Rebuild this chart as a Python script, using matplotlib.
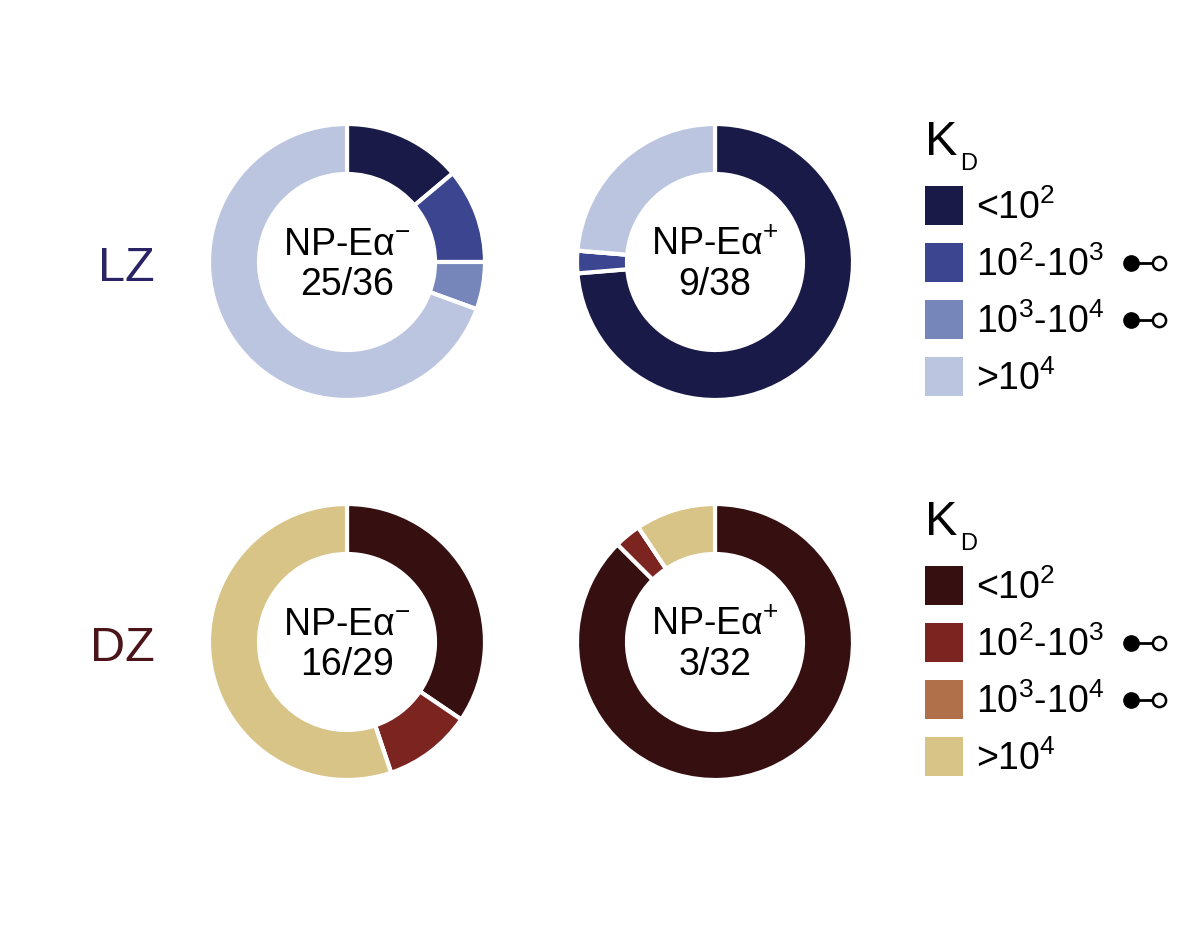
import matplotlib
matplotlib.use("Agg")
import matplotlib.pyplot as plt
from matplotlib.patches import Rectangle

plt.rcParams["font.family"] = ["Liberation Sans", "DejaVu Sans"]
plt.rcParams["mathtext.fontset"] = "custom"
plt.rcParams["mathtext.rm"] = "Liberation Sans"
plt.rcParams["mathtext.it"] = "Liberation Sans:italic"
plt.rcParams["mathtext.bf"] = "Liberation Sans:bold"

# counts per KD bin, order: <1e2, 1e2-1e3, 1e3-1e4, >1e4
kd_labels = [r"<10$^{2}$", r"10$^{2}$-10$^{3}$", r"10$^{3}$-10$^{4}$", r">10$^{4}$"]
lz_neg = [5, 4, 2, 25]
lz_pos = [28, 1, 0, 9]
dz_neg = [10, 3, 0, 16]
dz_pos = [28, 1, 0, 3]
zones = ["LZ", "DZ"]
np_labels = [r"NP-Eα$^{-}$", r"NP-Eα$^{+}$"]
lz_colors = ["#1a1a48", "#3c4590", "#7686bb", "#bcc5e0"]
dz_colors = ["#360f10", "#7b2420", "#b0704a", "#d8c486"]
zone_colors = ["#2a2466", "#4a1418"]
dumbbell = [False, True, True, False]  # marker after legend label

W, H = 1182, 932
fig = plt.figure(figsize=(W / 100, H / 100), dpi=100)
ax = fig.add_axes([0, 0, 1, 1])


def Y(yp):
    # pixel row (from top) -> data y
    return H - yp


R, RW = 138, 50
cx = [347, 715]
cy = [262, 642]
rows = [(lz_neg, lz_pos, lz_colors), (dz_neg, dz_pos, dz_colors)]

for r, (neg, pos, cols) in enumerate(rows):
    yc = cy[r]
    for c, vals in enumerate([neg, pos]):
        ax.pie(vals, colors=cols, startangle=90, counterclock=False,
               center=(cx[c], Y(yc)), radius=R, frame=True,
               wedgeprops=dict(width=RW, edgecolor="white", linewidth=3))
        ax.text(cx[c], Y(yc - 7), np_labels[c], ha="center", va="baseline",
                fontsize=27)
        ax.text(cx[c], Y(yc + 33), f"{vals[3]}/{sum(vals)}", ha="center",
                va="baseline", fontsize=27)
    ax.text(155, Y(yc + 19), zones[r], ha="right", va="baseline",
            fontsize=35, color=zone_colors[r])

    # legend
    ky = yc - 107
    ax.text(925, Y(ky), "K", ha="left", va="baseline", fontsize=35)
    ax.text(960, Y(ky + 15), "D", ha="left", va="baseline", fontsize=17)
    for i, lab in enumerate(kd_labels):
        ry = yc - 57 + i * 57
        ax.add_patch(Rectangle((925, Y(ry + 19.5)), 38, 39, color=cols[i], lw=0))
        ax.text(976, Y(ry + 14), lab, ha="left", va="baseline", fontsize=27)
        if dumbbell[i]:
            dy = Y(ry + 1)
            ax.plot([1131, 1159], [dy, dy], color="black", lw=2, zorder=3)
            ax.plot([1131], [dy], "o", color="black", ms=11, zorder=4)
            ax.plot([1159], [dy], "o", mfc="white", mec="black", mew=1.8,
                    ms=9.5, zorder=4)

ax.set_xlim(0, W)
ax.set_ylim(0, H)
ax.set_aspect("equal")
ax.axis("off")
fig.savefig("out.png", dpi=100, facecolor="white")
